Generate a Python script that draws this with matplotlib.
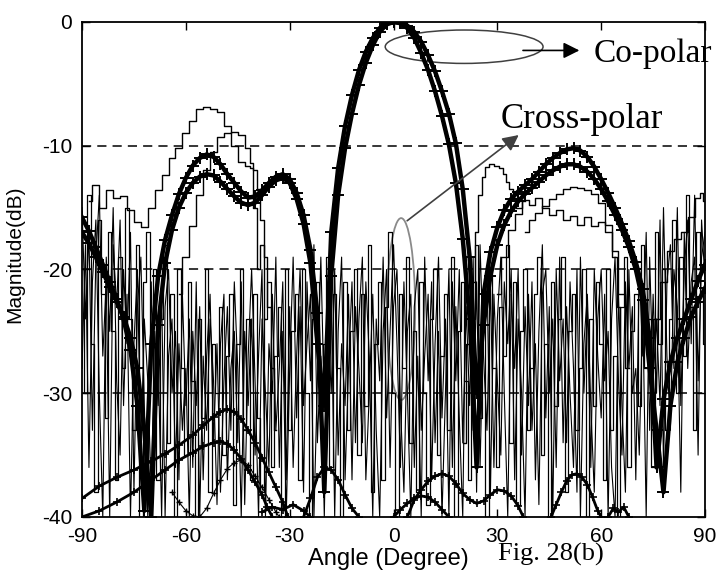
import matplotlib
import matplotlib.pyplot as plt
import numpy as np
from matplotlib.patches import Ellipse

matplotlib.use("Agg")

## Data
# co-polar main traces, sampled every 2 degrees from -90 to 90
co_angles = np.arange(-90, 91, 2)
co_upper = [-15.8, -16.9, -18.2, -19.6, -21.0, -22.4, -24.0, -26.5, -31.0, -39.5,
            -26.0, -20.5, -17.6, -15.6, -13.9, -12.6, -11.6, -11.0, -10.7, -10.9,
            -11.5, -12.3, -13.0, -13.7, -14.2, -14.1, -13.6, -13.0, -12.5, -12.3,
            -12.7, -13.8, -15.6, -18.4, -23.5, -38.0, -20.5, -14.0, -10.2, -7.4,
            -5.1, -3.3, -1.9, -0.8, -0.2, 0.0, -0.1, -0.5, -1.3, -2.5,
            -3.9, -5.6, -7.6, -9.9, -13.0, -17.5, -24.0, -36.0, -22.0, -18.6,
            -16.6, -15.2, -14.3, -13.7, -13.2, -12.7, -12.1, -11.5, -11.0, -10.6,
            -10.3, -10.2, -10.4, -10.9, -11.7, -12.7, -13.8, -15.0, -16.3, -17.7,
            -19.4, -21.6, -25.5, -36.0, -30.5, -27.5, -25.5, -24.0, -22.4, -20.9,
            -19.6]
co_lower = [-17.0, -17.9, -19.0, -20.2, -21.4, -22.6, -23.8, -25.5, -28.0, -33.0,
            -40.0, -24.5, -19.5, -16.8, -15.0, -13.8, -13.0, -12.5, -12.3, -12.4,
            -12.9, -13.5, -14.1, -14.6, -14.8, -14.6, -14.0, -13.3, -12.8, -12.6,
            -13.0, -14.3, -16.3, -19.5, -26.0, -31.0, -17.0, -11.8, -8.4, -5.9,
            -3.9, -2.4, -1.3, -0.5, -0.1, 0.0, -0.05, -0.3, -0.8, -1.6,
            -2.7, -4.0, -5.6, -7.4, -9.8, -13.5, -19.0, -30.0, -24.5, -20.5,
            -18.0, -16.4, -15.3, -14.5, -13.9, -13.4, -12.9, -12.4, -12.0, -11.7,
            -11.5, -11.5, -11.7, -12.1, -12.7, -13.5, -14.5, -15.6, -16.8, -18.2,
            -20.0, -22.5, -28.0, -33.0, -38.0, -31.0, -27.5, -25.5, -23.8, -22.6,
            -21.5]

# thinner co-polar measurements
t1_x = [-88, -86, -84, -82, -80, -78, -76, -74, -72, -70, -68, -66, -64, -62, -60,
        -58, -56, -54, -52, -50, -48, -46, -44, -42, -41, -40, -39, -38, -37]
t1_y = [-14.5, -13.2, -15.0, -13.6, -14.2, -14.1, -15.2, -16.2, -16.6, -15.0, -13.6,
        -12.4, -11.0, -10.2, -9.0, -8.0, -7.0, -6.9, -7.0, -7.3, -8.4, -10.0, -11.3,
        -11.6, -11.8, -15.0, -20.0, -18.0, -24.0]
t2_x = [-62, -60, -58, -56, -54, -52, -50, -48, -46, -44, -42, -41, -40, -39, -38,
        -37, -36, -35, -34]
t2_y = [-22, -19, -16.5, -14, -12, -10.5, -9.3, -9.0, -8.9, -9.1, -10.2, -11.4, -12.0,
        -13.5, -16, -19, -23, -28, -33]
t3_x = [20, 22, 23, 24, 25, 26, 27, 28, 30, 31, 32, 33, 34, 35, 36, 38]
t3_y = [-34, -26, -21, -17, -14, -12.5, -11.7, -11.5, -11.6, -11.8, -12.3, -12.9,
        -13.5, -14.2, -15, -14.5]
t4_x = [30, 32, 34, 36, 38, 40, 42, 44, 46, 48, 50, 52, 54, 56, 58, 60, 62, 64, 66, 68]
t4_y = [-22, -19, -16.8, -15.5, -14.4, -14.8, -14.2, -15.0, -15.6, -15.2, -16.0,
        -15.7, -16.4, -15.8, -16.5, -16.2, -17.0, -18.5, -22, -28]
t5_x = [38, 40, 42, 44, 46, 48, 50, 52, 54, 56, 58, 60, 62, 64, 65, 66]
t5_y = [-17, -16, -15.4, -14.9, -14.3, -13.9, -13.5, -13.3, -13.4, -13.6, -13.9,
        -14.6, -16.4, -19, -23, -30]
t6_x = [74, 76, 78, 80, 82, 84, 86, 88, 89, 90]
t6_y = [-28, -24, -21, -18.5, -17.5, -17, -15.8, -14.2, -13.8, -14.5]

# cross-polar measurements, every 1 degree from -90 to 90
cx_angles = np.arange(-90, 91, 1)
cx_1 = [-15, -24, -17, -33, -19, -14, -27, -21, -40, -18,
        -23, -16, -31, -22, -40, -26, -20, -35, -24, -29,
        -38, -25, -31, -22, -40, -27, -24, -36, -26, -33,
        -28, -40, -25, -31, -23, -37, -27, -22, -34, -26,
        -38, -29, -23, -33, -21, -28, -40, -25, -31, -24,
        -35, -27, -20, -40, -26, -30, -19, -36, -25, -40,
        -28, -19, -32, -23, -38, -21, -29, -18, -34, -27,
        -40, -24, -30, -20, -35, -26, -31, -22, -37, -23,
        -28, -34, -21, -27, -40, -24, -29, -19, -32, -25,
        -18, -26, -36, -21, -30, -40, -23, -20, -33, -27,
        -22, -37, -26, -19, -32, -24, -40, -21, -29, -20,
        -34, -23, -31, -19, -38, -18, -27, -33, -21, -36,
        -24, -19, -30, -40, -22, -28, -20, -35, -23, -31,
        -21, -37, -25, -18, -32, -23, -40, -20, -29, -24,
        -34, -21, -28, -38, -19, -30, -23, -36, -20, -27,
        -32, -22, -40, -24, -19, -29, -35, -21, -28, -23,
        -37, -20, -27, -17, -33, -22, -30, -16, -36, -21,
        -18, -28, -15, -31, -20, -16, -26, -14, -29, -19,
        -17]
cx_2 = [-20, -30, -14, -26, -38, -16, -22, -32, -17, -25,
        -37, -19, -28, -15, -24, -33, -18, -40, -21, -17,
        -30, -20, -37, -24, -18, -34, -22, -40, -20, -28,
        -35, -21, -29, -40, -24, -32, -20, -38, -26, -30,
        -23, -35, -27, -22, -39, -26, -20, -33, -24, -37,
        -22, -32, -38, -24, -21, -36, -27, -23, -40, -20,
        -33, -25, -22, -37, -20, -30, -40, -24, -21, -31,
        -26, -19, -36, -22, -28, -40, -21, -33, -25, -20,
        -35, -22, -31, -18, -38, -26, -21, -37, -23, -17,
        -30, -40, -22, -28, -19, -34, -25, -38, -21, -30,
        -39, -24, -20, -35, -27, -22, -33, -19, -40, -25,
        -21, -29, -37, -24, -18, -32, -22, -40, -20, -28,
        -36, -23, -27, -18, -34, -21, -39, -25, -20, -33,
        -28, -22, -19, -35, -26, -40, -21, -31, -24, -19,
        -38, -25, -22, -33, -28, -20, -40, -24, -31, -21,
        -26, -37, -20, -33, -27, -40, -23, -19, -36, -25,
        -22, -31, -18, -28, -24, -36, -17, -26, -20, -33,
        -24, -16, -30, -19, -27, -14, -23, -33, -17, -22,
        -26]
cx_3 = [-28, -18, -36, -21, -16, -30, -40, -19, -25, -15,
        -29, -35, -20, -26, -17, -38, -23, -19, -31, -40,
        -21, -33, -27, -40, -23, -20, -30, -25, -37, -22,
        -31, -24, -36, -21, -40, -27, -33, -24, -29, -39,
        -26, -22, -37, -28, -25, -34, -21, -39, -27, -20,
        -29, -40, -24, -30, -36, -22, -33, -28, -21, -37,
        -23, -36, -27, -20, -31, -26, -22, -40, -29, -19,
        -31, -27, -22, -40, -25, -19, -37, -28, -21, -34,
        -24, -19, -37, -30, -22, -33, -40, -25, -20, -36,
        -23, -20, -31, -38, -25, -22, -36, -27, -40, -19,
        -29, -21, -34, -25, -40, -30, -20, -36, -23, -32,
        -40, -19, -25, -33, -21, -36, -24, -20, -38, -22,
        -29, -35, -21, -26, -20, -37, -24, -30, -40, -22,
        -33, -26, -39, -22, -20, -30, -24, -36, -19, -34,
        -23, -30, -36, -20, -40, -26, -22, -31, -38, -24,
        -20, -29, -25, -36, -40, -22, -31, -38, -20, -30,
        -28, -35, -23, -40, -19, -29, -24, -31, -15, -27,
        -33, -20, -23, -38, -17, -28, -21, -19, -35, -16,
        -21]

# smooth low-level cross-polar lobes
c_x = [-90, -85, -80, -75, -70, -66, -62, -58, -55, -52, -50, -48, -46, -44, -42,
       -40, -38, -36.5, -35]
c_y = [-40, -39.5, -38.8, -38.0, -37.0, -36.2, -35.4, -34.8, -34.3, -34.0, -33.9,
       -34.1, -34.6, -35.3, -36.2, -37.2, -38.2, -39.2, -40]
d_x = [-90, -85, -80, -75, -70, -66, -62, -58, -55, -52, -50, -48, -46, -44, -42,
       -40, -38, -36, -34, -32, -30.5]
d_y = [-38.5, -37.5, -36.8, -36.2, -35.5, -34.9, -34.2, -33.4, -32.6, -31.9, -31.5,
       -31.3, -31.5, -32.1, -33.0, -34.0, -35.2, -36.4, -37.6, -38.8, -40]
e_x = [-64, -62, -60, -58, -56, -54, -52, -50, -48, -46, -44, -42, -40, -38, -36,
       -34, -33]
e_y = [-38.0, -38.8, -39.5, -39.9, -40.0, -39.3, -38.1, -37.0, -36.1, -35.6, -35.4,
       -35.8, -36.7, -37.6, -38.6, -39.6, -40]
f_x = [-26, -24, -22, -20, -18, -16, -14, -12, -10]
f_y = [-40, -38.5, -36.8, -36.0, -36.2, -37.0, -38.2, -39.3, -40]
g_x = [-38, -35, -32, -29, -26, -24]
g_y = [-39.6, -39.2, -39.4, -39.0, -39.5, -40]
h_x = [0, 2, 4, 6, 8, 10, 12, 14, 16]
h_y = [-40, -39.4, -38.9, -38.5, -38.3, -38.4, -38.8, -39.4, -40]
i_x = [4, 6, 8, 10, 12, 14, 16, 18, 20, 22, 24, 26, 28, 30, 32, 34, 36, 37.5]
i_y = [-40, -38.6, -37.8, -37.1, -36.7, -36.5, -36.7, -37.3, -38.1, -38.6, -38.9,
       -38.7, -38.2, -37.8, -37.9, -38.3, -39.1, -40]
j_x = [45.5, 47, 48.5, 50, 51.5, 53, 54.5, 56, 57.5, 59, 60]
j_y = [-40, -39, -38.0, -37.1, -36.6, -36.5, -36.8, -37.4, -38.4, -39.5, -40]
k_x = [62, 63.5, 65, 66.5, 68]
k_y = [-40, -39.3, -39.6, -39.2, -40]

x_ticks = [-90, -60, -30, 0, 30, 60, 90]
y_ticks = [-40, -30, -20, -10, 0]

## Plot
fig = plt.figure(figsize=(7.17, 5.75), dpi=100)
ax = fig.add_axes([0.1144, 0.1009, 0.8689, 0.8609])

# noisy cross-polar data; mix of plain and stair-stepped traces
ax.plot(cx_angles, cx_1, color="black", lw=0.8)
ax.plot(cx_angles, cx_2, color="black", lw=0.9, drawstyle="steps-mid")
ax.plot(cx_angles, cx_3, color="black", lw=0.8)

for tx, ty in ((t1_x, t1_y), (t2_x, t2_y), (t3_x, t3_y), (t4_x, t4_y),
               (t5_x, t5_y), (t6_x, t6_y)):
    ax.plot(tx, ty, color="black", lw=1.0, drawstyle="steps-mid")

for co in (co_upper, co_lower):
    ax.plot(co_angles, co, color="black", lw=3.2, marker="+", ms=8, mew=1.4)

for bx, by in ((c_x, c_y), (d_x, d_y), (f_x, f_y), (g_x, g_y), (i_x, i_y),
               (j_x, j_y), (h_x, h_y), (k_x, k_y)):
    ax.plot(bx, by, color="black", lw=2.0, marker="+", ms=6, mew=1.2)
ax.plot(e_x, e_y, color="black", lw=0.8, marker="+", ms=5, mew=1.0)

# dashed horizontal grid
for yv in (-30, -20, -10):
    ax.axhline(yv, color="black", lw=1.1, ls=(0, (6, 4)), zorder=0.5)

# annotations
ax.add_patch(Ellipse((20.4, -2.0), 45.6, 2.7, fill=False, ec="#404040", lw=1.1))
ax.annotate("", xy=(54.5, -2.3), xytext=(36.6, -2.3),
            arrowprops=dict(arrowstyle="-|>", color="black", lw=1.2, mutation_scale=24))
ax.text(57.7, -2.6, "Co-polar", fontsize=24, family="Liberation Serif",
        ha="left", va="center", clip_on=False)

ax.add_patch(Ellipse((2.2, -23.2), 8.1, 14.7, fill=False, ec="#8a8a8a", lw=1.3))
ax.annotate("", xy=(36.8, -9.0), xytext=(3.3, -16.2),
            arrowprops=dict(arrowstyle="-|>", color="#404040", lw=1.2, mutation_scale=24))
ax.text(30.8, -7.9, "Cross-polar", fontsize=25, family="Liberation Serif",
        ha="left", va="center")

ax.set_xlim(-90, 90)
ax.set_ylim(-40, 0)
ax.set_xticks(x_ticks)
ax.set_yticks(y_ticks)
ax.set_xticklabels([str(v) for v in x_ticks])
ax.set_yticklabels([str(v) for v in y_ticks])
ax.tick_params(direction="in", top=True, right=True, length=6, width=1.0,
               labelsize=15, pad=7)
for lab in ax.get_xticklabels() + ax.get_yticklabels():
    lab.set_family("Liberation Sans")
for sp in ax.spines.values():
    sp.set_linewidth(1.3)

ax.set_ylabel("Magnitude(dB)", fontsize=15, family="Liberation Sans")
ax.yaxis.set_label_coords(-0.092, 0.53)
fig.text(0.541, 0.028, "Angle (Degree)", fontsize=17, family="Liberation Sans",
         ha="center", va="center")
fig.text(0.768, 1 - 561 / 575, "Fig. 28(b)", fontsize=19, family="Liberation Serif",
         ha="center", va="baseline")

fig.savefig("out.png", dpi=100)
